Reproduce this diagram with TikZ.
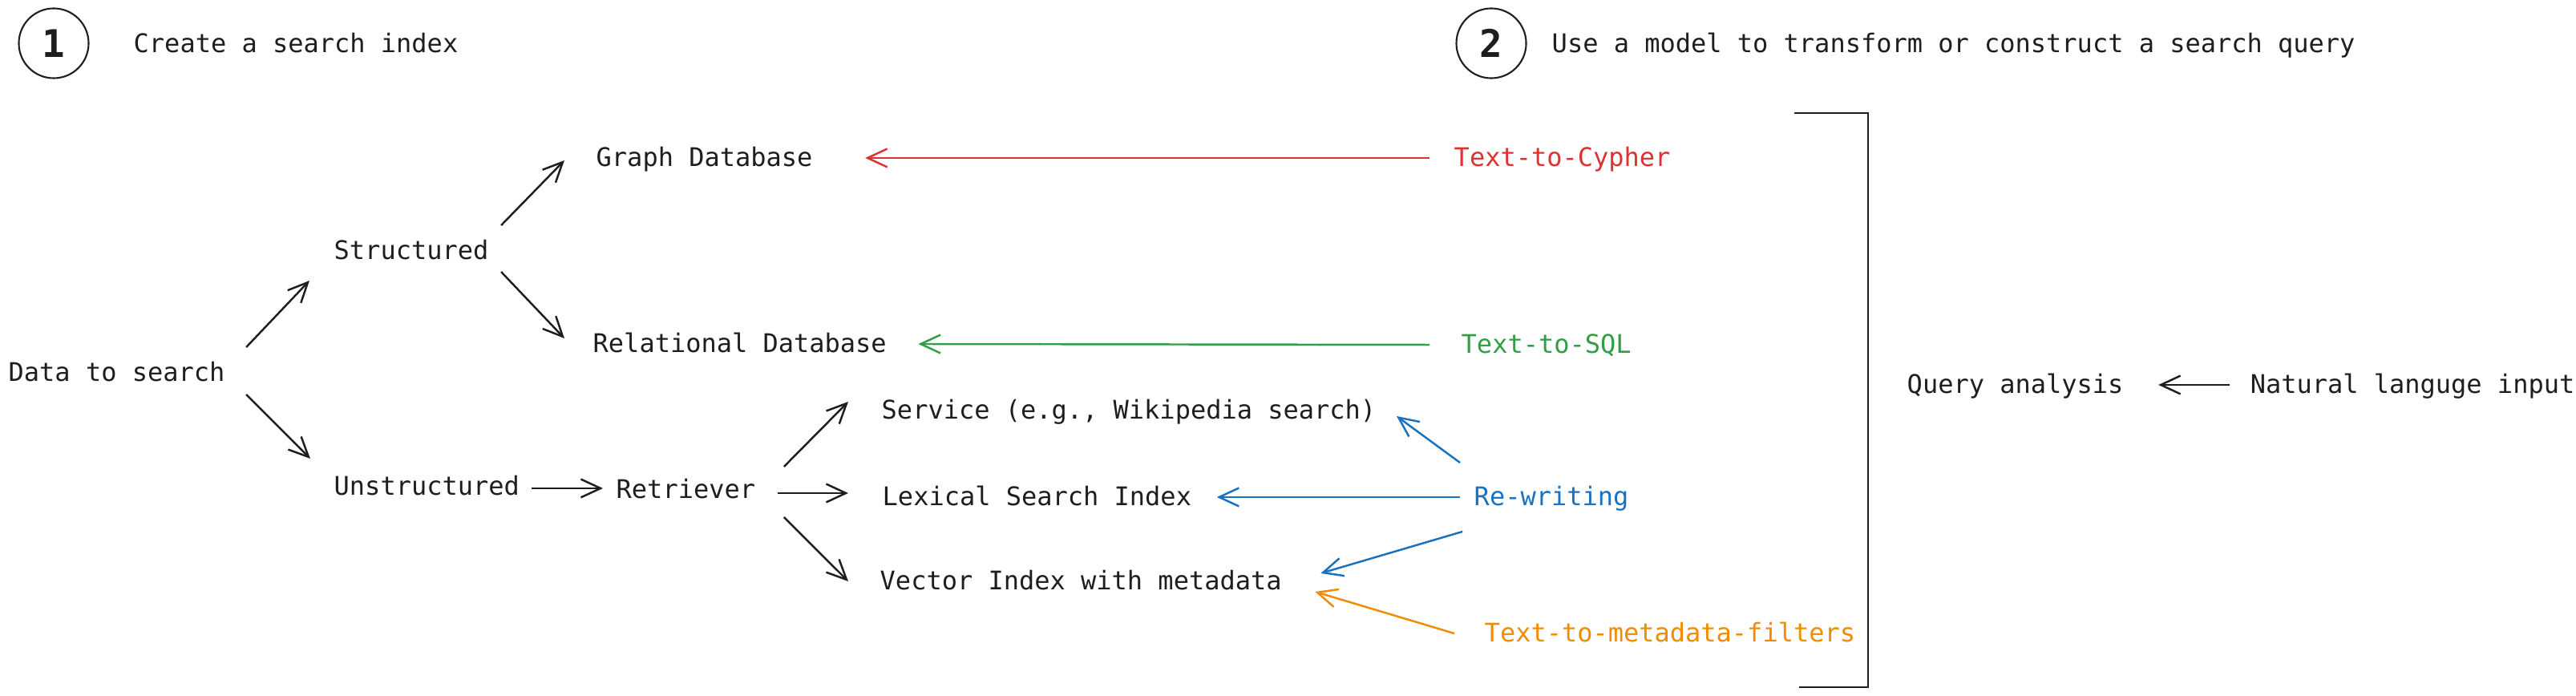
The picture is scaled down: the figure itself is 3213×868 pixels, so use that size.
\documentclass[tikz,border=0pt]{standalone}
\usepackage{fontspec}
\setmonofont{DejaVu Sans Mono}
\usetikzlibrary{arrows.meta}
\definecolor{ink}{HTML}{1E1E1E}
\definecolor{sqlgreen}{HTML}{2F9E44}
\definecolor{cypherred}{HTML}{E03131}
\definecolor{rewriteblue}{HTML}{1971C2}
\definecolor{filterorange}{HTML}{F08C00}
\tikzset{
	monotext/.style={font=\ttfamily\fontsize{9.1}{11}\selectfont, text=ink, anchor=west,
		inner sep=0pt, text height=0.8em, text depth=0.2em}
}
\tikzset{
	stepcircle/.style={draw=ink, circle, line width=0.6pt, minimum size=0.87cm, inner sep=0pt,
		font=\ttfamily\bfseries\fontsize{13.5}{15}\selectfont, text=ink}
}
\tikzset{
	sketch/.style={line width=0.7pt, -{Straight Barb[length=7pt,width=6.5pt]}}
}

\begin{document}
\begin{tikzpicture}[x=0.01cm, y=-0.01cm]
      \useasboundingbox (0,0) rectangle (3213,868);
      % steps
      \node[stepcircle] (one) at (67,54) {1};
      \node[monotext] (onetext) at (166,55) {Create a search index};
      \node[stepcircle] (two) at (1860,54) {2};
      \node[monotext] (twotext) at (1935,55) {Use a model to transform or construct a search query};
      % search index
      \node[monotext] (data) at (10,465) {Data to search};
      \node[monotext] (structured) at (416,313) {Structured};
      \node[monotext] (unstructured) at (416,607) {Unstructured};
      \node[monotext] (graph) at (743,197) {Graph Database};
      \node[monotext] (relational) at (739,429) {Relational Database};
      \node[monotext] (retriever) at (768,611) {Retriever};
      \node[monotext] (service) at (1099,512) {Service (e.g., Wikipedia search)};
      \node[monotext] (lexical) at (1100,620) {Lexical Search Index};
      \node[monotext] (vector) at (1097,725) {Vector Index with metadata};
      \foreach \a/\sa/\b/\sb in {data/{26,-32}/structured/{-30,37}, data/{26,27}/unstructured/{-29,-35},
        structured/{15,-32}/graph/{-39,3}, structured/{15,26}/relational/{-35,-7},
        unstructured/{14,2}/retriever/{-16,-2}, retriever/{35,-29}/service/{-41,-11},
        retriever/{27,4}/lexical/{-42,-5}, retriever/{35,34}/vector/{-39,0}}
        {\draw[sketch, ink] ([shift={(\sa)}]\a.east) -- ([shift={(\sb)}]\b.west);}
      % query construction
      \node[monotext, text=cypherred] (cypher) at (1813,197) {Text-to-Cypher};
      \node[monotext, text=sqlgreen] (sql) at (1822,430) {Text-to-SQL};
      \node[monotext, text=rewriteblue] (rewriting) at (1838,620) {Re-writing};
      \node[monotext, text=filterorange] (filters) at (1851,790) {Text-to-metadata-filters};
      \foreach \a/\sa/\b/\sb/\c in {cypher/{-30,0}/graph/{65,0}/cypherred, sql/{-39,0}/relational/{39,0}/sqlgreen,
        rewriting/{-17,-43}/service/{25,7}/rewriteblue, rewriting/{-17,0}/lexical/{31,0}/rewriteblue,
        rewriting/{-14,43}/vector/{48,-10}/rewriteblue, filters/{-37,0}/vector/{41,13}/filterorange}
        {\draw[sketch, \c] ([shift={(\sa)}]\a.west) -- ([shift={(\sb)}]\b.east);}
      % query analysis
      \draw[line width=0.7pt, ink] (2238,141) -- (2330,141) -- (2330,857) -- (2244,857);
      \node[monotext] (query) at (2378,480) {Query analysis};
      \node[monotext] (natural) at (2806,480) {Natural languge input};
      \draw[sketch, ink] ([shift={(-25,0)}]natural.west) -- ([shift={(43,0)}]query.east);
    \end{tikzpicture}
\end{document}
